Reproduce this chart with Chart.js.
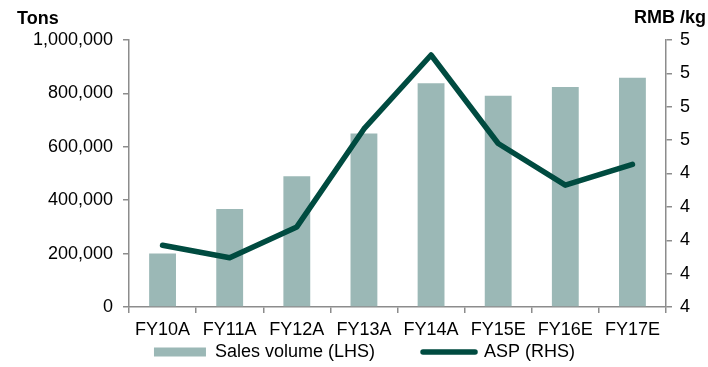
<!DOCTYPE html>
<html>
<head>
<meta charset="utf-8">
<script src="https://cdn.jsdelivr.net/npm/chart.js@4.4.1/dist/chart.umd.min.js"></script>
<style>
html,body{margin:0;padding:0;background:#fff;}
#wrap{position:relative;width:708px;height:367px;}
</style>
</head>
<body>
<div id="wrap"><canvas id="c" width="708" height="367"></canvas></div>
<script>
const categories = ['FY10A', 'FY11A', 'FY12A', 'FY13A', 'FY14A', 'FY15E', 'FY16E', 'FY17E'];
const salesVolume = [200000, 367000, 490000, 650000, 838000, 791000, 824000, 859000];
const aspValues = [3.97, 3.895, 4.08, 4.667, 5.11, 4.58, 4.33, 4.455];
const leftAxisRange = [0, 1000000, 200000];
const rightAxisRange = [3.6, 5.2, 0.2];
const seriesNames = ['Sales volume (LHS)', 'ASP (RHS)'];
const axisTitleTexts = ['Tons', 'RMB /kg'];

const BAR_COLOR = '#9BB8B6';
const LINE_COLOR = '#004B40';
const AXIS_COLOR = '#8C8C8C';
const FONT = '"Liberation Sans", Arial, sans-serif';

Chart.defaults.font.family = FONT;
Chart.defaults.font.size = 18;
Chart.defaults.color = '#000';

const axisTitles = {
  id: 'axisTitles',
  afterDraw(chart) {
    const ctx = chart.ctx;
    ctx.save();
    ctx.font = 'bold 18px ' + FONT;
    ctx.fillStyle = '#000';
    ctx.textBaseline = 'alphabetic';
    ctx.textAlign = 'left';
    ctx.fillText(axisTitleTexts[0], 17, 24);
    ctx.textAlign = 'right';
    ctx.fillText(axisTitleTexts[1], 706, 23);
    ctx.restore();
  }
};

// place the legend row just below the category labels
const legendPlacer = {
  id: 'legendPlacer',
  afterLayout(chart) {
    const lg = chart.legend;
    if (!lg) return;
    lg.top = 295;
    lg.bottom = chart.height;
    lg.height = lg.bottom - lg.top;
  }
};

new Chart(document.getElementById('c'), {
  type: 'bar',
  data: {
    labels: categories,
    datasets: [
      {
        type: 'bar',
        label: seriesNames[0],
        data: salesVolume,
        backgroundColor: BAR_COLOR,
        borderWidth: 0,
        barPercentage: 0.4,
        categoryPercentage: 1,
        yAxisID: 'y',
        order: 2
      },
      {
        type: 'line',
        label: seriesNames[1],
        data: aspValues,
        borderColor: LINE_COLOR,
        backgroundColor: LINE_COLOR,
        borderWidth: 5.5,
        tension: 0,
        pointRadius: 0,
        pointHoverRadius: 0,
        borderCapStyle: 'round',
        borderJoinStyle: 'round',
        yAxisID: 'y1',
        order: 1
      }
    ]
  },
  options: {
    responsive: false,
    animation: false,
    events: [],
    layout: { padding: { top: 40, left: 21, right: 0, bottom: 0 } },
    plugins: {
      tooltip: { enabled: false },
      legend: {
        position: 'bottom',
        maxHeight: 30,
        labels: {
          usePointStyle: true,
          pointStyleWidth: 52,
          boxHeight: 9,
          padding: 48,
          color: '#000',
          font: { size: 18 },
          sort: (a, b) => a.datasetIndex - b.datasetIndex,
          generateLabels(chart) {
            const items = Chart.defaults.plugins.legend.labels.generateLabels(chart);
            items.forEach(it => {
              if (it.datasetIndex === 0) {
                it.pointStyle = 'rect';
                it.fillStyle = BAR_COLOR;
                it.strokeStyle = BAR_COLOR;
                it.lineWidth = 0;
              } else {
                it.pointStyle = 'line';
                it.strokeStyle = LINE_COLOR;
                it.fillStyle = LINE_COLOR;
                it.lineWidth = 5.5;
                it.lineCap = 'round';
              }
            });
            return items;
          }
        }
      }
    },
    scales: {
      x: {
        offset: true,
        grid: { offset: true, drawOnChartArea: false, drawTicks: true, tickLength: 6, color: AXIS_COLOR, lineWidth: 1.5 },
        border: { color: AXIS_COLOR, width: 1.5 },
        ticks: { color: '#000', font: { size: 18 }, padding: 6, maxRotation: 0, autoSkip: false },
        afterFit: s => { s.height = 30; }
      },
      y: {
        position: 'left',
        min: leftAxisRange[0],
        max: leftAxisRange[1],
        grid: { drawOnChartArea: false, drawTicks: true, tickLength: 6, color: AXIS_COLOR, lineWidth: 1.5 },
        border: { color: AXIS_COLOR, width: 1.5 },
        ticks: {
          stepSize: leftAxisRange[2],
          padding: 10,
          color: '#000',
          font: { size: 18 },
          callback: v => Number(v).toLocaleString('en-US')
        },
        afterFit: s => { s.width = 108; }
      },
      y1: {
        position: 'right',
        min: rightAxisRange[0],
        max: rightAxisRange[1],
        grid: { drawOnChartArea: false, drawTicks: true, tickLength: 6, color: AXIS_COLOR, lineWidth: 1.5 },
        border: { color: AXIS_COLOR, width: 1.5 },
        ticks: {
          stepSize: rightAxisRange[2],
          padding: 8,
          color: '#000',
          font: { size: 18 },
          callback: v => String(Math.round(v))
        },
        afterFit: s => { s.width = 42; }
      }
    }
  },
  plugins: [axisTitles, legendPlacer]
});
</script>
</body>
</html>
